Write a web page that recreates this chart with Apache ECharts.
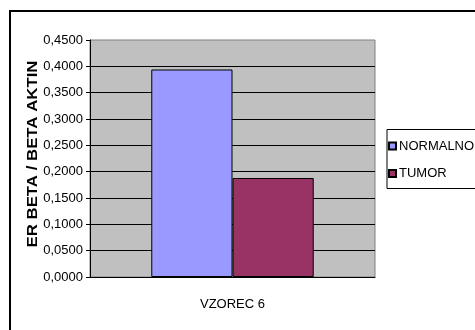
<!DOCTYPE html>
<html>
<head>
<meta charset="utf-8">
<style>
  html, body { margin: 0; padding: 0; background: #fff; }
  #chart { width: 475px; height: 330px; }
</style>
<script src="https://cdn.jsdelivr.net/npm/echarts@6/dist/echarts.min.js"></script>
</head>
<body>
<div id="chart"></div>
<script>
// Sample names on the category axis
const categories = ['VZOREC 6'];
// Series names and their values (ER beta / beta aktin ratio)
const seriesNames = ['NORMALNO', 'TUMOR'];
const normalnoValues = [0.394];
const tumorValues = [0.188];
const seriesColors = ['#9999FF', '#993366'];
const yAxisTitle = 'ER BETA / BETA AKTIN';

const FONT = "'Liberation Sans', Arial, sans-serif";

const chart = echarts.init(document.getElementById('chart'), null, { renderer: 'canvas' });

const seriesData = [normalnoValues, tumorValues];

chart.setOption({
  animation: false,
  backgroundColor: '#ffffff',
  textStyle: { fontFamily: FONT },
  grid: {
    left: 90, top: 40, width: 285, height: 237,
    show: true,
    backgroundColor: '#C0C0C0',
    borderColor: '#808080',
    borderWidth: 1
  },
  legend: {
    orient: 'vertical',
    left: 388,
    top: 139,
    itemWidth: 7,
    itemHeight: 7,
    itemGap: 13.6,
    icon: 'rect',
    padding: 0,
    textStyle: { fontFamily: FONT, fontSize: 13, color: '#000', padding: [0, 0, 0, -2], lineHeight: 14 },
    data: seriesNames
  },
  xAxis: {
    type: 'category',
    data: categories,
    axisLine: { lineStyle: { color: '#000', width: 1 } },
    axisTick: { length: 6, lineStyle: { color: '#000' } },
    axisLabel: { fontFamily: FONT, fontSize: 13, color: '#000', margin: 21 }
  },
  yAxis: {
    type: 'value',
    min: 0,
    max: 0.45,
    interval: 0.05,
    axisLine: { show: true, lineStyle: { color: '#000', width: 1 } },
    axisTick: { show: true, length: 4, lineStyle: { color: '#000' } },
    axisLabel: {
      fontFamily: FONT, fontSize: 13, color: '#000', margin: 7,
      formatter: v => v.toFixed(4).replace('.', ',')
    },
    splitLine: { show: true, showMaxLine: false, lineStyle: { color: '#000', width: 1 } }
  },
  series: seriesNames.map((name, i) => ({
    name: name,
    type: 'bar',
    data: seriesData[i],
    barGap: '0%',
    barCategoryGap: '43%',
    itemStyle: { color: seriesColors[i], borderColor: '#000', borderWidth: 1 }
  })),
  graphic: [
    {
      // outer chart frame
      type: 'rect',
      silent: true,
      shape: { x: 10, y: 11, width: 480, height: 340 },
      style: { fill: 'none', stroke: '#000', lineWidth: 2 },
      z: 100
    },
    {
      // legend frame
      type: 'rect',
      silent: true,
      shape: { x: 387, y: 129.5, width: 100, height: 59 },
      style: { fill: 'none', stroke: '#000', lineWidth: 1 },
      z: 100
    },
    {
      // rotated, widened axis title
      type: 'text',
      silent: true,
      x: 33,
      y: 154,
      rotation: Math.PI / 2,
      scaleX: 1.2,
      style: {
        text: yAxisTitle,
        fontFamily: FONT,
        fontSize: 14,
        fontWeight: 'bold',
        fill: '#000',
        align: 'center',
        verticalAlign: 'middle'
      },
      z: 100
    }
  ]
});
</script>
</body>
</html>
